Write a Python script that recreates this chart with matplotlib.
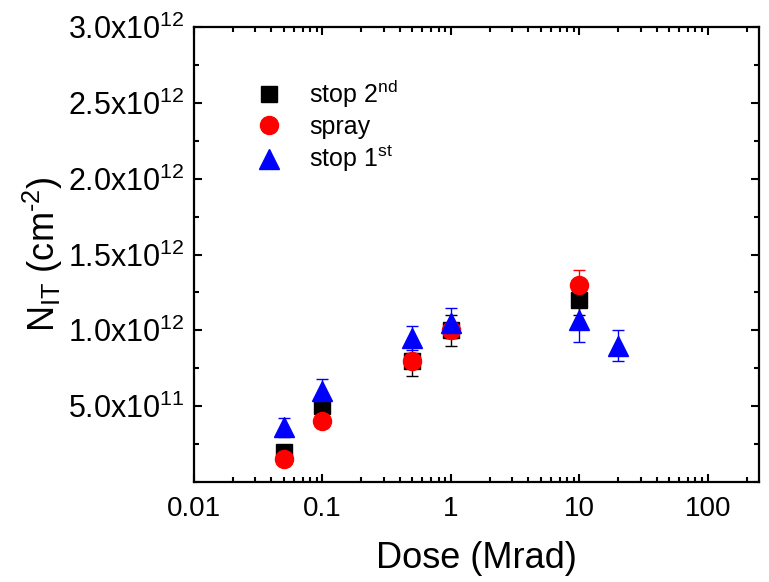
import numpy as np
import matplotlib
matplotlib.use("Agg")
from matplotlib import pyplot as plt
from matplotlib import ticker

plt.rcParams['font.family'] = ['Liberation Sans', 'DejaVu Sans']
plt.rcParams['mathtext.fontset'] = 'custom'
plt.rcParams['mathtext.rm'] = 'Liberation Sans'
plt.rcParams['mathtext.it'] = 'Liberation Sans'
plt.rcParams['mathtext.default'] = 'regular'

#Data ----------------------------------------------------------#
dose_sq = [0.05, 0.1, 0.5, 1, 10]
nit_sq = [2.0e11, 5.0e11, 8.0e11, 1.0e12, 1.2e12]
err_sq = [0.3e11, 0.4e11, 1.0e11, 1.0e11, 1.0e11]

dose_ci = [0.05, 0.1, 0.5, 1, 10]
nit_ci = [1.5e11, 4.0e11, 8.0e11, 1.0e12, 1.3e12]
err_ci = [0.3e11, 0.3e11, 0.5e11, 0.5e11, 1.0e11]

dose_tr = [0.05, 0.1, 0.5, 1, 10, 20]
nit_tr = [3.6e11, 6.0e11, 9.5e11, 1.05e12, 1.07e12, 0.9e12]
err_tr = [0.6e11, 0.8e11, 0.8e11, 1.0e11, 1.5e11, 1.0e11]

labels = ['stop 2$^{nd}$', 'spray', 'stop 1$^{st}$']

x_ticks = [0.01, 0.1, 1, 10, 100]
x_ticklabels = ['0.01', '0.1', '1', '10', '100']
y_ticks = [5e11, 1e12, 1.5e12, 2e12, 2.5e12, 3e12]
y_ticklabels = [r'5.0x10$^{11}$', r'1.0x10$^{12}$', r'1.5x10$^{12}$',
                r'2.0x10$^{12}$', r'2.5x10$^{12}$', r'3.0x10$^{12}$']

#Plot setup ----------------------------------------------------#
fig = plt.figure(figsize=(7.69, 5.82), dpi=100)
ax = fig.add_axes([0.2523, 0.1718, 0.7347, 0.7818])

ax.errorbar(dose_sq, nit_sq, yerr=err_sq, fmt='s', color='black', ms=11,
            ecolor='black', elinewidth=1, capsize=4.5, capthick=1, label=labels[0])
ax.errorbar(dose_ci, nit_ci, yerr=err_ci, fmt='o', color='red', ms=13,
            ecolor='red', elinewidth=1, capsize=4.5, capthick=1, label=labels[1])
ax.errorbar(dose_tr, nit_tr, yerr=err_tr, fmt='^', color='blue', ms=14,
            ecolor='blue', elinewidth=1, capsize=4.5, capthick=1, label=labels[2])

ax.set_xscale('log')
ax.set_xlim(0.01, 250)
ax.set_ylim(0, 3e12)

ax.set_xticks(x_ticks)
ax.set_xticklabels(x_ticklabels)
ax.xaxis.set_minor_locator(ticker.LogLocator(base=10, subs=np.arange(2, 10)))
ax.xaxis.set_minor_formatter(ticker.NullFormatter())
ax.set_yticks(y_ticks)
ax.set_yticklabels(y_ticklabels)
ax.yaxis.set_minor_locator(ticker.MultipleLocator(2.5e11))

ax.tick_params(which='both', direction='in', top=True, right=True, width=1.5)
ax.tick_params(which='major', length=6)
ax.tick_params(axis='x', which='major', labelsize=20, pad=10)
ax.tick_params(axis='y', which='major', labelsize=22, pad=7)
ax.tick_params(which='minor', length=3.5)
for s in ax.spines.values():
    s.set_linewidth(1.6)

ax.set_xlabel('Dose (Mrad)', fontsize=26, labelpad=14)
ax.set_ylabel(r'N$_{IT}$ (cm$^{\text{-}2}$)', fontsize=26, labelpad=2)

handles, labs = ax.get_legend_handles_labels()
handles = [h[0] for h in handles]
ax.legend(handles, labs, loc='upper left', bbox_to_anchor=(0.093, 0.911),
          frameon=False, fontsize=18, handlelength=1.0, handletextpad=1.1,
          labelspacing=0.2, borderaxespad=0)

fig.savefig('out.png', dpi=100)
